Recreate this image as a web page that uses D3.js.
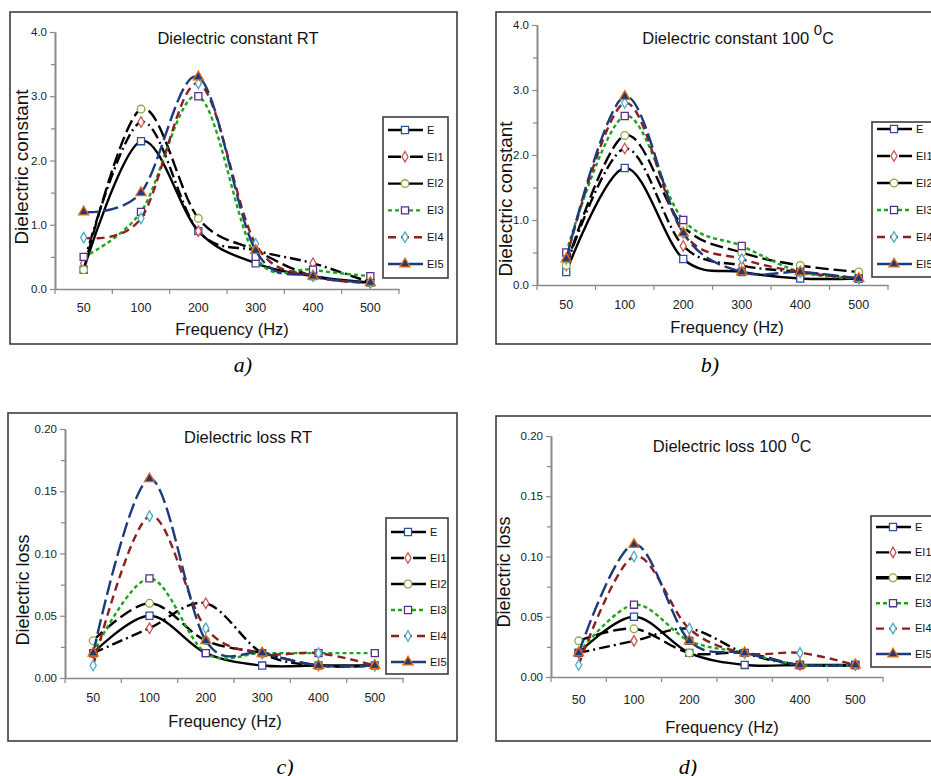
<!DOCTYPE html>
<html>
<head>
<meta charset="utf-8">
<script src="https://cdnjs.cloudflare.com/ajax/libs/d3/7.8.5/d3.min.js"></script>
<style>
  body { margin: 0; background: #fff; }
  text { font-family: "Liberation Sans", Arial, sans-serif; }
  .cap { font-family: "Liberation Serif", "Times New Roman", serif; font-style: italic; }
</style>
</head>
<body>
<div id="fig"></div>
<script>
// categories and series names
var freqs = ["50", "100", "200", "300", "400", "500"];
var names = ["E", "EI1", "EI2", "EI3", "EI4", "EI5"];

// dielectric constant at room temperature (one row per series)
var constRT = [
  [0.3, 2.3, 0.9, 0.4, 0.2, 0.1],
  [0.4, 2.6, 0.9, 0.6, 0.4, 0.1],
  [0.3, 2.8, 1.1, 0.6, 0.2, 0.1],
  [0.5, 1.2, 3.0, 0.5, 0.3, 0.2],
  [0.8, 1.1, 3.2, 0.7, 0.2, 0.1],
  [1.2, 1.5, 3.3, 0.6, 0.2, 0.1]
];

// dielectric constant at 100 C
var const100 = [
  [0.2, 1.8, 0.4, 0.2, 0.1, 0.1],
  [0.3, 2.1, 0.6, 0.3, 0.2, 0.1],
  [0.3, 2.3, 0.9, 0.5, 0.3, 0.2],
  [0.5, 2.6, 1.0, 0.6, 0.2, 0.1],
  [0.4, 2.8, 0.8, 0.4, 0.2, 0.1],
  [0.4, 2.9, 0.8, 0.2, 0.2, 0.1]
];

// dielectric loss at room temperature
var lossRT = [
  [0.02, 0.05, 0.02, 0.01, 0.01, 0.01],
  [0.02, 0.04, 0.06, 0.02, 0.01, 0.01],
  [0.03, 0.06, 0.03, 0.02, 0.01, 0.01],
  [0.02, 0.08, 0.02, 0.02, 0.02, 0.02],
  [0.01, 0.13, 0.04, 0.02, 0.02, 0.01],
  [0.02, 0.16, 0.03, 0.02, 0.01, 0.01]
];

// dielectric loss at 100 C
var loss100 = [
  [0.02, 0.05, 0.02, 0.01, 0.01, 0.01],
  [0.02, 0.03, 0.04, 0.02, 0.01, 0.01],
  [0.03, 0.04, 0.02, 0.02, 0.01, 0.01],
  [0.02, 0.06, 0.03, 0.02, 0.01, 0.01],
  [0.01, 0.10, 0.04, 0.02, 0.02, 0.01],
  [0.02, 0.11, 0.03, 0.02, 0.01, 0.01]
];

// tick labels
var constTicks = [0, 1, 2, 3, 4];
var constMinor = [0.5, 1.5, 2.5, 3.5];
var lossTicks = [0, 0.05, 0.10, 0.15, 0.20];
var lossMinor = [0.025, 0.075, 0.125, 0.175];

// line and marker look of each series
var styles = [
  {line: "#000", dash: null, mark: d3.symbolSquare, size: 50, stroke: "#2f4f9f", fill: "#fff"},
  {line: "#000", dash: "11,4,2,4", mark: d3.symbolDiamond, size: 32, stroke: "#d0504d", fill: "#fff"},
  {line: "#000", dash: "13,5", mark: d3.symbolCircle, size: 46, stroke: "#8aa84a", fill: "#fff"},
  {line: "#19a619", dash: "4,3", mark: d3.symbolSquare, size: 50, stroke: "#5a2d8c", fill: "#fff"},
  {line: "#8c1f1f", dash: "8,5", mark: d3.symbolDiamond, size: 32, stroke: "#4bacc6", fill: "#fff"},
  {line: "#1d3a7c", dash: "15,5", mark: d3.symbolTriangle, size: 44, stroke: "#e46c0a", fill: "#1d3a7c"}
];

var svg = d3.select("#fig").append("svg")
    .attr("width", 931)
    .attr("height", 776);

function drawPanel(p) {
  var g = svg.append("g");

  // outer frame
  g.append("rect")
      .attr("x", p.box[0]).attr("y", p.box[1])
      .attr("width", p.box[2]).attr("height", p.box[3])
      .style("fill", "none")
      .style("stroke", "#3c3c3c")
      .style("stroke-width", 1.6);

  var x = d3.scaleBand()
      .domain(freqs)
      .range([p.left, p.right])
      .padding(0);
  var y = d3.scaleLinear()
      .domain([0, p.ticks[p.ticks.length - 1]])
      .range([p.bottom, p.top]);
  var cx = function(d) { return x(d) + x.bandwidth() / 2; };

  // y axis, minor then major ticks
  g.append("g")
      .attr("transform", "translate(" + p.left + ",0)")
      .call(d3.axisLeft(y).tickValues(p.minor).tickSize(4).tickSizeOuter(0).tickFormat(""));
  var ya = g.append("g")
      .attr("transform", "translate(" + p.left + ",0)")
      .call(d3.axisLeft(y).tickValues(p.ticks).tickSize(5).tickSizeOuter(0)
              .tickPadding(3).tickFormat(d3.format(p.fmt)));
  ya.selectAll(".tick text")
      .style("font-size", "11.5px")
      .style("fill", "#222");

  // x axis: labels at category centres, ticks on the boundaries
  var xa = g.append("g")
      .attr("transform", "translate(0," + p.bottom + ")")
      .call(d3.axisBottom(x).tickSize(0).tickSizeOuter(0).tickPadding(p.xPad));
  xa.selectAll(".tick text")
      .style("font-size", "12.5px")
      .style("fill", "#222");
  g.selectAll(".xb")
      .data(d3.range(freqs.length + 1))
    .enter().append("line")
      .attr("x1", function(i) { return p.left + i * x.step(); })
      .attr("x2", function(i) { return p.left + i * x.step(); })
      .attr("y1", p.bottom)
      .attr("y2", p.bottom + 5)
      .style("stroke", "#8a8a8a")
      .style("stroke-width", 1.2);

  g.selectAll(".domain").style("stroke", "#8a8a8a").style("stroke-width", 1.6);
  g.selectAll(".tick line").style("stroke", "#8a8a8a").style("stroke-width", 1.2);

  // series
  var line = d3.line()
      .x(function(d, i) { return cx(freqs[i]); })
      .y(function(d) { return y(d); })
      .curve(d3.curveCatmullRom.alpha(0));

  p.data.forEach(function(vals, s) {
    var st = styles[s];
    g.append("path")
        .attr("d", line(vals))
        .style("fill", "none")
        .style("stroke", st.line)
        .style("stroke-width", 2.4)
        .style("stroke-dasharray", st.dash);
    g.selectAll(".m" + s)
        .data(vals)
      .enter().append("path")
        .attr("d", d3.symbol().type(st.mark).size(st.size))
        .attr("transform", function(d, i) { return "translate(" + cx(freqs[i]) + "," + y(d) + ")"; })
        .style("fill", st.fill)
        .style("stroke", st.stroke)
        .style("stroke-width", 1.3);
  });

  // title
  var t = g.append("text")
      .attr("x", p.title[0])
      .attr("y", p.title[1])
      .attr("text-anchor", "middle")
      .attr("dy", "0.35em")
      .style("font-size", "16.5px")
      .style("fill", "#111")
      .text(p.titleText);
  if (p.sup) {
    t.append("tspan").text(" ");
    t.append("tspan").attr("dy", -9).style("font-size", "15px").text("0");
    t.append("tspan").attr("dy", 9).style("font-size", "16px").text("C");
  }

  // axis titles
  g.append("text")
      .attr("transform", "translate(" + p.ylab[0] + "," + p.ylab[1] + ") rotate(-90)")
      .attr("text-anchor", "middle")
      .attr("dy", "0.35em")
      .style("font-size", p.ylabFont + "px")
      .style("fill", "#111")
      .text(p.ylabText);
  g.append("text")
      .attr("x", p.xlab[0])
      .attr("y", p.xlab[1])
      .attr("text-anchor", "middle")
      .attr("dy", "0.35em")
      .style("font-size", "16.5px")
      .style("fill", "#111")
      .text("Frequency (Hz)");

  // legend
  var lg = p.leg;
  g.append("rect")
      .attr("x", lg[0]).attr("y", lg[1])
      .attr("width", lg[2]).attr("height", lg[3])
      .style("fill", "#fff")
      .style("stroke", "#3c3c3c")
      .style("stroke-width", 1.6);
  names.forEach(function(n, s) {
    var st = styles[s];
    var ly = lg[4] + s * lg[5];
    g.append("line")
        .attr("x1", lg[0] + 5).attr("x2", lg[0] + 40)
        .attr("y1", ly).attr("y2", ly)
        .style("stroke", st.line)
        .style("stroke-width", s === 2 && p.boldEI2 ? 3.4 : 2.4)
        .style("stroke-dasharray", s === 2 ? null : (s === 1 ? "13,3,2,4" : st.dash));
    g.append("path")
        .attr("d", d3.symbol().type(st.mark).size(st.size))
        .attr("transform", "translate(" + (lg[0] + 22) + "," + ly + ")")
        .style("fill", st.fill)
        .style("stroke", st.stroke)
        .style("stroke-width", 1.3);
    g.append("text")
        .attr("x", lg[0] + 44)
        .attr("y", ly)
        .attr("dy", "0.35em")
        .style("font-size", "11px")
        .style("fill", "#111")
        .text(n);
  });

  // panel caption
  svg.append("text")
      .attr("class", "cap")
      .attr("x", p.cap[0])
      .attr("y", p.cap[1])
      .attr("text-anchor", "middle")
      .attr("dy", "0.35em")
      .style("font-size", "22px")
      .style("fill", "#000")
      .text(p.capText);
}

drawPanel({
  data: constRT, ticks: constTicks, minor: constMinor, fmt: ".1f",
  box: [10, 12, 447, 332], left: 55, right: 399, top: 32, bottom: 289,
  xPad: 14.5,
  title: [238, 38], titleText: "Dielectric constant RT",
  ylab: [21, 167], ylabFont: 19, ylabText: "Dielectric constant",
  xlab: [232, 329],
  leg: [383, 117, 65, 161, 130, 26.8],
  cap: [243, 364], capText: "a)"
});

drawPanel({
  data: const100, ticks: constTicks, minor: constMinor, fmt: ".1f",
  box: [496, 12, 445, 332], left: 537, right: 888, top: 25, bottom: 285,
  xPad: 15.5,
  title: [738, 38], titleText: "Dielectric constant 100", sup: true,
  ylab: [505, 199], ylabFont: 19, ylabText: "Dielectric constant",
  xlab: [727, 327],
  leg: [872, 122, 70, 155, 129, 27],
  cap: [710, 364], capText: "b)"
});

drawPanel({
  data: lossRT, ticks: lossTicks, minor: lossMinor, fmt: ".2f",
  box: [8, 413, 449, 328], left: 65, right: 403, top: 429, bottom: 678,
  xPad: 15.5,
  title: [248, 437], titleText: "Dielectric loss RT",
  ylab: [23, 590], ylabFont: 18, ylabText: "Dielectric loss",
  xlab: [225, 721],
  leg: [386, 518, 62, 156, 532, 26],
  cap: [285, 766], capText: "c)"
});

drawPanel({
  data: loss100, ticks: lossTicks, minor: lossMinor, fmt: ".2f",
  box: [496, 416, 445, 325], left: 551, right: 883, top: 436, bottom: 677,
  xPad: 18.5,
  title: [732, 446], titleText: "Dielectric loss 100", sup: true,
  ylab: [504, 572], ylabFont: 18, ylabText: "Dielectric loss",
  xlab: [722, 727],
  leg: [871, 516, 70, 151, 527, 25.4], boldEI2: true,
  cap: [688, 766], capText: "d)"
});
</script>
</body>
</html>
